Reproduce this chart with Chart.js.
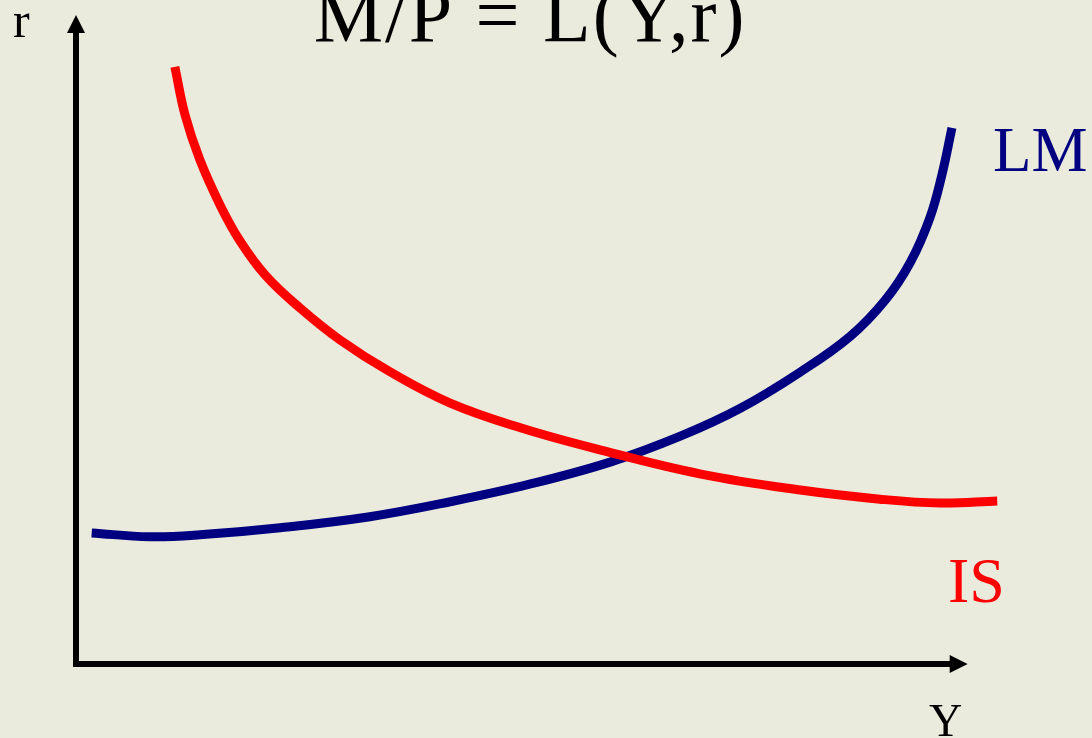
<!DOCTYPE html>
<html>
<head>
<meta charset="utf-8">
<title>IS-LM</title>
<script src="https://cdn.jsdelivr.net/npm/chart.js@4.4.1/dist/chart.umd.min.js"></script>
<style>
  html, body { margin: 0; padding: 0; background: #eaeadd; }
  #wrap { width: 1092px; height: 738px; position: relative; }
</style>
</head>
<body>
<div id="wrap"><canvas id="islm"></canvas></div>
<script>
// Curve data (Y = output, r = interest rate)
const isY = [10.7, 11.8, 13.4, 15.6, 17.7, 20.5, 24.2, 28.6, 34.0, 40.5, 48.1, 56.7, 67.5, 78.4, 87.0, 93.5, 99.7];
const isR = [92.0, 84.6, 77.7, 70.7, 65.3, 59.9, 54.9, 49.9, 45.0, 40.2, 36.4, 33.0, 29.3, 26.8, 25.4, 24.8, 25.1];

const lmY = [1.7, 8.0, 13.4, 22.1, 31.8, 40.5, 49.1, 57.8, 65.4, 71.9, 78.4, 83.8, 87.6, 90.3, 92.4, 93.7, 94.8];
const lmR = [20.2, 19.6, 19.9, 21.0, 22.7, 25.0, 27.7, 31.1, 35.1, 39.4, 45.0, 50.5, 56.1, 61.9, 68.7, 75.3, 82.6];

// Axis extents (arrow tips) in data units
const yAxisEnd = 96.5;
const rAxisEnd = 100;

const titleText = 'M/P = L(Y,r)';

function toPoints(xs, ys) {
    return xs.map((x, i) => ({ x: x, y: ys[i] }));
}

// Draw background, axes with arrows, and labels
const diagramPlugin = {
    id: 'diagram',
    beforeDraw(chart) {
        const ctx = chart.ctx;
        ctx.save();
        ctx.fillStyle = '#eaeadd';
        ctx.fillRect(0, 0, chart.width, chart.height);
        ctx.restore();
    },
    beforeDatasetsDraw(chart) {
        const ctx = chart.ctx;
        const xs = chart.scales.x;
        const ys = chart.scales.y;
        const x0 = xs.getPixelForValue(0);
        const y0 = ys.getPixelForValue(0);
        const xEnd = xs.getPixelForValue(yAxisEnd);
        const yEnd = ys.getPixelForValue(rAxisEnd);

        ctx.save();
        ctx.strokeStyle = '#000';
        ctx.fillStyle = '#000';
        ctx.lineWidth = 6;
        ctx.lineCap = 'butt';
        // vertical axis
        ctx.beginPath();
        ctx.moveTo(x0, y0 + 3);
        ctx.lineTo(x0, yEnd + 16);
        ctx.stroke();
        // horizontal axis
        ctx.beginPath();
        ctx.moveTo(x0 - 3, y0);
        ctx.lineTo(xEnd - 16, y0);
        ctx.stroke();
        // arrow heads
        ctx.beginPath();
        ctx.moveTo(x0, yEnd);
        ctx.lineTo(x0 - 9, yEnd + 18);
        ctx.lineTo(x0 + 9, yEnd + 18);
        ctx.closePath();
        ctx.fill();
        ctx.beginPath();
        ctx.moveTo(xEnd, y0);
        ctx.lineTo(xEnd - 18, y0 - 9);
        ctx.lineTo(xEnd - 18, y0 + 9);
        ctx.closePath();
        ctx.fill();
        ctx.restore();
    },
    afterDraw(chart) {
        const ctx = chart.ctx;
        ctx.save();
        ctx.textBaseline = 'alphabetic';
        ctx.textAlign = 'left';
        const serif = '"Liberation Serif", "Times New Roman", serif';

        ctx.fillStyle = '#000';
        ctx.font = '78px ' + serif;
        ctx.letterSpacing = '2px';
        ctx.textAlign = 'center';
        ctx.fillText(titleText, 530, 41);
        ctx.letterSpacing = '0px';

        ctx.textAlign = 'left';
        ctx.font = '50px ' + serif;
        ctx.fillText('r', 13, 37);

        ctx.font = '46px ' + serif;
        ctx.fillText('Y', 929, 736);

        ctx.fillStyle = '#000080';
        ctx.font = '63px ' + serif;
        ctx.fillText('LM', 993, 171);

        ctx.fillStyle = '#ff0000';
        ctx.font = '64px ' + serif;
        ctx.fillText('IS', 948, 602);
        ctx.restore();
    }
};

const chart = new Chart(document.getElementById('islm'), {
    type: 'line',
    data: {
        datasets: [
            {
                label: 'IS',
                data: toPoints(isY, isR),
                borderColor: '#ff0000',
                borderWidth: 9,
                pointRadius: 0,
                tension: 0.4,
                fill: false
            },
            {
                label: 'LM',
                data: toPoints(lmY, lmR),
                borderColor: '#000080',
                borderWidth: 9,
                pointRadius: 0,
                tension: 0.4,
                fill: false
            }
        ]
    },
    options: {
        responsive: true,
        maintainAspectRatio: false,
        animation: false,
        layout: {
            padding: { left: 76, right: 92, top: 15, bottom: 74 }
        },
        plugins: {
            legend: { display: false },
            tooltip: { enabled: false },
            title: { display: false }
        },
        scales: {
            x: {
                type: 'linear',
                min: 0,
                max: 100,
                display: false
            },
            y: {
                type: 'linear',
                min: 0,
                max: 100,
                display: false
            }
        }
    },
    plugins: [diagramPlugin]
});
</script>
</body>
</html>
